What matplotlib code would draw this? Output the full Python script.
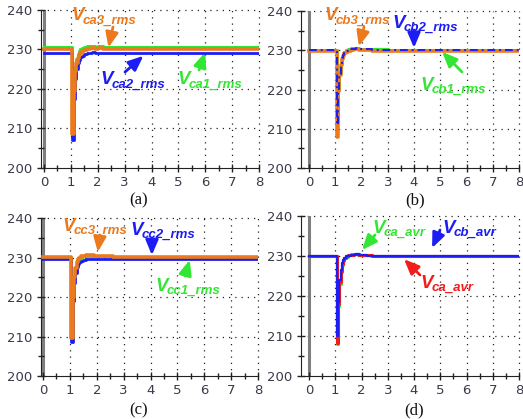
import matplotlib
matplotlib.use("Agg")
import matplotlib.pyplot as plt
from matplotlib.ticker import MultipleLocator

W, H = 523, 419
ORANGE = '#EC7A1C'
BLUE = '#1C1CF5'
GREEN = '#33E633'
RED = '#F21C1C'
LABEL_FONT = 'Liberation Sans'

# ---- data (time in s, voltage in V) ----
t = [0, 1.05, 1.1, 1.15, 1.2, 1.25, 1.3, 1.35, 1.4, 1.5, 1.6, 1.7, 1.8,
     1.9, 2.0, 2.2, 2.4, 2.6, 3.0, 8.0]

# panel (a)
ca1 = [230.6, 212.0, 221.0, 225.5, 227.5, 228.8, 229.6, 230.1, 230.4, 230.7,
       230.9, 230.8, 230.9, 230.7, 230.8, 230.7, 230.6, 230.6, 230.6, 230.6]
ca2 = [229.0, 207.2, 217.5, 222.5, 225.0, 226.5, 227.4, 228.0, 228.4, 228.8,
       229.1, 229.2, 229.3, 229.2, 229.2, 229.1, 229.0, 229.0, 229.0, 229.0]
ca3 = [230.1, 208.5, 219.5, 224.5, 226.5, 227.8, 228.6, 229.1, 229.5, 229.9,
       230.2, 230.3, 230.3, 230.2, 230.3, 230.2, 230.2, 230.1, 230.1, 230.1]
# panel (b)
cb1 = [230.1, 212.0, 220.5, 224.5, 226.8, 228.2, 229.0, 229.6, 230.0, 230.4,
       230.6, 230.5, 230.6, 230.4, 230.3, 230.3, 230.2, 230.2, 230.1, 230.1]
cb2 = [230.0, 211.0, 220.0, 224.0, 226.5, 228.0, 228.8, 229.4, 229.8, 230.2,
       230.4, 230.4, 230.5, 230.3, 230.2, 230.2, 230.1, 230.1, 230.0, 230.0]
cb3 = [229.9, 208.0, 219.5, 223.8, 226.2, 227.8, 228.6, 229.2, 229.6, 229.9,
       230.1, 230.2, 230.2, 230.1, 230.0, 230.0, 229.9, 229.9, 229.9, 229.9]
# panel (c)
cc1 = [230.2, 212.0, 221.0, 225.0, 227.2, 228.5, 229.3, 229.8, 230.1, 230.4,
       230.5, 230.5, 230.5, 230.4, 230.4, 230.3, 230.3, 230.2, 230.2, 230.2]
cc2 = [229.5, 208.7, 219.0, 223.5, 226.0, 227.5, 228.3, 228.8, 229.1, 229.4,
       229.5, 229.6, 229.6, 229.6, 229.6, 229.5, 229.5, 229.5, 229.5, 229.5]
cc3 = [230.1, 209.6, 220.0, 225.0, 227.3, 228.8, 229.6, 230.0, 230.3, 230.5,
       230.6, 230.6, 230.6, 230.5, 230.5, 230.4, 230.3, 230.2, 230.1, 230.1]
# panel (d)
ca_avr_g = [230.0, 208.0, 217.5, 223.0, 226.0, 227.8, 228.8, 229.4, 229.8, 230.2,
            230.4, 230.4, 230.5, 230.3, 230.3, 230.2, 230.1, 230.1, 230.0, 230.0]
ca_avr_r = [230.0, 208.2, 218.0, 223.5, 226.3, 228.0, 229.0, 229.5, 229.9, 230.2,
            230.3, 230.4, 230.4, 230.3, 230.2, 230.2, 230.1, 230.1, 230.0, 230.0]
cb_avr = [230.0, 210.0, 218.5, 224.0, 226.5, 228.2, 229.0, 229.5, 229.9, 230.1,
          230.3, 230.3, 230.4, 230.3, 230.2, 230.1, 230.1, 230.0, 230.0, 230.0]

yticks = [200, 210, 220, 230, 240]
xticks = [0, 1, 2, 3, 4, 5, 6, 7, 8]

fig = plt.figure(figsize=(W / 100, H / 100), dpi=100)
renderer = fig.canvas.get_renderer()


def make_ax(left_px, zero_px, eight_px, top_px, bottom_px):
    ppu = (eight_px - zero_px) / 8.0
    xmin = -(zero_px - left_px) / ppu
    ax = fig.add_axes([left_px / W, 1 - bottom_px / H,
                       (eight_px - left_px) / W, (bottom_px - top_px) / H])
    ax.set_xlim(xmin, 8)
    ax.set_ylim(200, 240)
    ax.set_xticks(xticks)
    ax.set_yticks(yticks)
    ax.xaxis.set_minor_locator(MultipleLocator(0.5))
    ax.yaxis.set_minor_locator(MultipleLocator(5))
    ax.tick_params(which='both', direction='inout', width=1, color='#222222',
                   labelsize=9.5, labelcolor='#3a3a48', pad=3)
    ax.tick_params(which='major', length=6)
    ax.tick_params(which='minor', length=5)
    ax.spines['top'].set_visible(False)
    ax.spines['right'].set_visible(False)
    ax.spines['left'].set_color('#222222')
    ax.spines['bottom'].set_color('#222222')
    for x in xticks[1:]:
        ax.axvline(x, color='#222222', lw=0.9, ls=(0, (1, 4)), zorder=0,
                   clip_on=False)
    for y in yticks[1:]:
        ax.axhline(y, color='#222222', lw=0.9, ls=(0, (1, 4)), zorder=0,
                   clip_on=False)
    ax.axvline(0, color='#7f7f7f', lw=2.2, zorder=1)
    ax.set_facecolor('white')
    return ax


def label(ax, sub, color, tx, ty, tip, tail):
    base = H - (ty + 12.5)
    v = fig.text(tx / W, base / H, 'V', color=color, fontsize=13.5,
                 family=LABEL_FONT, weight='bold', style='italic',
                 ha='left', va='baseline')
    bb = v.get_window_extent(renderer)
    fig.text((bb.x1 - 0.5) / W, (base - 3) / H, sub, color=color,
             fontsize=9.5, family=LABEL_FONT, weight='bold', style='italic',
             ha='left', va='baseline')
    ax.annotate('', xy=tip, xycoords='data',
                xytext=(tail[0], H - tail[1]), textcoords='figure pixels',
                arrowprops=dict(arrowstyle='-|>,head_length=0.9,head_width=0.38',
                                color=color, lw=2, shrinkA=0, shrinkB=0))


def caption(s, x, y):
    fig.text(x / W, 1 - y / H, s, ha='center', va='center', fontsize=12,
             family='Liberation Serif', color='#111111')


# (a)
ax = make_ax(41, 44, 259, 10, 168)
ax.plot(t, ca1, color=GREEN, lw=2.2, drawstyle='steps-post', zorder=3)
ax.plot(t, ca2, color=BLUE, lw=2.0, drawstyle='steps-post', zorder=4)
ax.plot(t, ca3, color=ORANGE, lw=2.6, drawstyle='steps-post', zorder=5)
label(ax, 'ca3_rms', ORANGE, 71, 8, (2.4, 230.5), (113, 27))
label(ax, 'ca2_rms', BLUE, 100, 72, (3.7, 228.4), (125, 72))
label(ax, 'ca1_rms', GREEN, 177, 72, (6.0, 229.3), (199, 70))
caption('(a)', 139, 200)

# (b)
ax = make_ax(301, 309, 519, 11, 168)
ax.plot(t, cb1, color=GREEN, lw=2.2, drawstyle='steps-post', zorder=3)
ax.plot(t, cb3, color=ORANGE, lw=2.6, drawstyle='steps-post', zorder=4)
ax.plot(t, cb2, color=BLUE, lw=1.4, ls=(0, (4, 2, 1, 2)),
        drawstyle='steps-post', zorder=5)
label(ax, 'cb3_rms', ORANGE, 324, 8, (1.9, 231.0), (364, 27))
label(ax, 'cb2_rms', BLUE, 392, 15, (4.0, 230.6), (414, 30))
label(ax, 'cb1_rms', GREEN, 420, 77, (5.07, 229.6), (462, 72))
caption('(b)', 415, 200)

# (c)
ax = make_ax(41, 43, 258, 218, 376)
ax.plot(t, cc1, color=GREEN, lw=2.2, drawstyle='steps-post', zorder=3)
ax.plot(t, cc2, color=BLUE, lw=2.0, drawstyle='steps-post', zorder=4)
ax.plot(t, cc3, color=ORANGE, lw=2.6, drawstyle='steps-post', zorder=5)
label(ax, 'cc3_rms', ORANGE, 62, 218, (2.04, 231.4), (100, 235))
label(ax, 'cc2_rms', BLUE, 130, 222, (4.05, 230.6), (152, 238))
label(ax, 'cc1_rms', GREEN, 155, 278, (5.46, 229.4), (185, 276))
caption('(c)', 139, 410)

# (d)
ax = make_ax(301, 309, 519, 216, 376)
ax.plot(t, ca_avr_g, color=GREEN, lw=2.2, drawstyle='steps-post', zorder=3)
ax.plot(t, ca_avr_r, color=RED, lw=2.2, drawstyle='steps-post', zorder=4)
ax.plot(t, cb_avr, color=BLUE, lw=1.6, drawstyle='steps-post', zorder=5)
label(ax, 'ca_avr', GREEN, 372, 220, (2.02, 231.5), (375, 235))
label(ax, 'cb_avr', BLUE, 442, 220, (4.69, 232.0), (440, 230))
label(ax, 'ca_avr', RED, 420, 275, (3.62, 229.2), (420, 275))
caption('(d)', 414, 410)

fig.savefig('out.png', dpi=100, facecolor='white')
